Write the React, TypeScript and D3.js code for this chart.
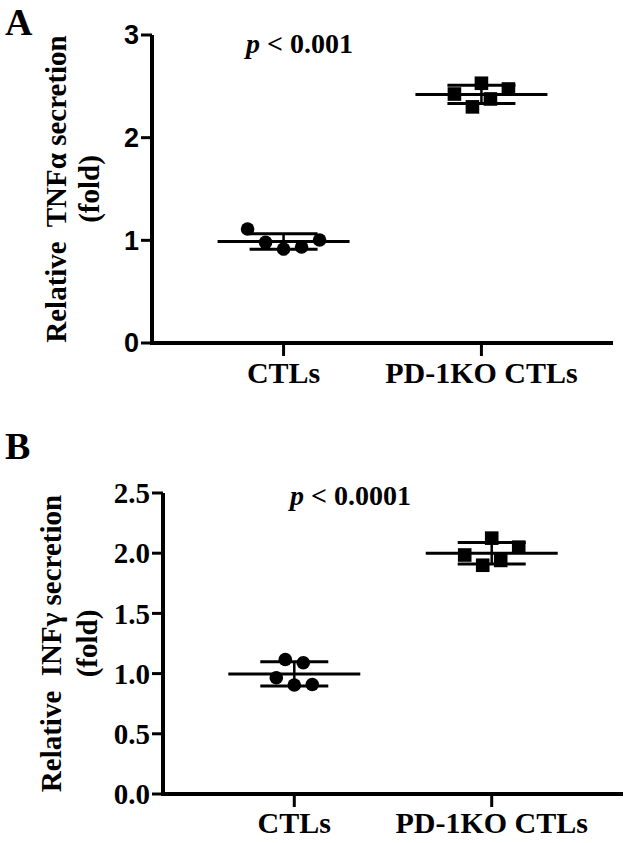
import React from "react";
import * as d3 from "d3";

const categories = ["CTLs", "PD-1KO CTLs"];

// Panel A: relative TNFα secretion (fold)
const tnfCTLs = [1.11, 0.98, 0.915, 0.935, 1.003];
const tnfKO = [2.425, 2.3, 2.53, 2.377, 2.474];
const tnfCTLsJitter = [-2, -1, 0, 1, 2];
const tnfKOJitter = [-1.5, -0.5, 0, 0.5, 1.5];
const tnfTicks = [0, 1, 2, 3];
const tnfTickLabels = ["0", "1", "2", "3"];

// Panel B: relative INFγ secretion (fold)
const infCTLs = [0.965, 1.117, 0.905, 1.09, 0.91];
const infKO = [1.985, 1.9, 2.125, 1.94, 2.05];
const infCTLsJitter = [-1, -0.5, 0, 0.5, 1];
const infKOJitter = [-1.5, -0.5, 0, 0.5, 1.5];
const infTicks = [0, 0.5, 1, 1.5, 2, 2.5];
const infTickLabels = ["0.0", "0.5", "1.0", "1.5", "2.0", "2.5"];

const SERIF = "'Liberation Serif', 'Times New Roman', serif";
const SANS = "'Liberation Sans', Arial, sans-serif";

type PanelProps = {
  letter: string;
  letterY: number;
  x0: number;
  x1: number;
  yTop: number;
  yBottom: number;
  yMax: number;
  ticks: number[];
  tickLabels: string[];
  tickFont: string;
  tickSize: number;
  groups: { values: number[]; jitter: number[]; shape: "circle" | "square" }[];
  titleLine1: string;
  titleLine2: string;
  title1X: number;
  title2X: number;
  pText: string;
  pX: number;
  pY: number;
  labelY: number;
};

function Panel(p: PanelProps) {
  const y = d3.scaleLinear().domain([0, p.yMax]).range([p.yBottom, p.yTop]);
  const x = d3.scalePoint<string>().domain(categories).range([p.x0, p.x1]).padding(0.665);
  const jitterUnit = 18;
  const yMid = (p.yTop + p.yBottom) / 2;
  return (
    <g>
      <text x={5} y={p.letterY} fontFamily={SERIF} fontWeight="bold" fontSize={38}>
        {p.letter}
      </text>
      {/* y axis title */}
      <text
        transform={`translate(${p.title1X},${yMid}) rotate(-90)`}
        textAnchor="middle"
        fontFamily={SERIF}
        fontWeight="bold"
        fontSize={29}
        style={{ whiteSpace: "pre" }}
      >
        {p.titleLine1}
      </text>
      <text
        transform={`translate(${p.title2X},${yMid}) rotate(-90)`}
        textAnchor="middle"
        fontFamily={SERIF}
        fontWeight="bold"
        fontSize={29}
      >
        {p.titleLine2}
      </text>
      {/* axes */}
      <line x1={p.x0} x2={p.x0} y1={p.yTop} y2={p.yBottom + 2} stroke="#000" strokeWidth={4} />
      <line x1={p.x0 - 2} x2={p.x1} y1={p.yBottom} y2={p.yBottom} stroke="#000" strokeWidth={4} />
      {p.ticks.map((t, i) => (
        <g key={i}>
          <line x1={p.x0 - 11} x2={p.x0} y1={y(t)} y2={y(t)} stroke="#000" strokeWidth={3} />
          <text
            x={p.x0 - 13}
            y={y(t)}
            dy="0.35em"
            textAnchor="end"
            fontFamily={p.tickFont}
            fontWeight="bold"
            fontSize={p.tickSize}
          >
            {p.tickLabels[i]}
          </text>
        </g>
      ))}
      {categories.map((c) => (
        <g key={c}>
          <line x1={x(c)} x2={x(c)} y1={p.yBottom} y2={p.yBottom + 13} stroke="#000" strokeWidth={3} />
          <text
            x={x(c)}
            y={p.labelY}
            textAnchor="middle"
            fontFamily={SERIF}
            fontWeight="bold"
            fontSize={30}
          >
            {c}
          </text>
        </g>
      ))}
      {/* data */}
      {p.groups.map((g, gi) => {
        const cx = x(categories[gi]) as number;
        const m = d3.mean(g.values) as number;
        const sd = d3.deviation(g.values) as number;
        return (
          <g key={gi}>
            {g.values.map((v, i) => {
              const px = cx + g.jitter[i] * jitterUnit;
              return g.shape === "circle" ? (
                <circle key={i} cx={px} cy={y(v)} r={6.8} fill="#000" />
              ) : (
                <rect key={i} x={px - 6.8} y={y(v) - 6.8} width={13.6} height={13.6} fill="#000" />
              );
            })}
            <line x1={cx - 66} x2={cx + 66} y1={y(m)} y2={y(m)} stroke="#000" strokeWidth={3} />
            <line x1={cx - 34} x2={cx + 34} y1={y(m + sd)} y2={y(m + sd)} stroke="#000" strokeWidth={3} />
            <line x1={cx - 34} x2={cx + 34} y1={y(m - sd)} y2={y(m - sd)} stroke="#000" strokeWidth={3} />
            <line x1={cx} x2={cx} y1={y(m + sd)} y2={y(m - sd)} stroke="#000" strokeWidth={2.5} />
          </g>
        );
      })}
      <text x={p.pX} y={p.pY} fontFamily={SERIF} fontWeight="bold" fontSize={28}>
        <tspan fontStyle="italic">p</tspan>
        {p.pText}
      </text>
    </g>
  );
}

export default function App() {
  return (
    <svg
      width={631}
      height={843}
      style={{ position: "absolute", left: 0, top: 0, background: "#fff" }}
    >
      <rect width={631} height={843} fill="#fff" />
      <Panel
        letter="A"
        letterY={35}
        x0={152}
        x1={613}
        yTop={35}
        yBottom={343}
        yMax={3}
        ticks={tnfTicks}
        tickLabels={tnfTickLabels}
        tickFont={SANS}
        tickSize={27}
        groups={[
          { values: tnfCTLs, jitter: tnfCTLsJitter, shape: "circle" },
          { values: tnfKO, jitter: tnfKOJitter, shape: "square" },
        ]}
        titleLine1={"Relative  TNFα secretion"}
        titleLine2="(fold)"
        title1X={66}
        title2X={99}
        pText=" < 0.001"
        pX={246}
        pY={53}
        labelY={383}
      />
      <Panel
        letter="B"
        letterY={459}
        x0={163}
        x1={623}
        yTop={493}
        yBottom={794}
        yMax={2.5}
        ticks={infTicks}
        tickLabels={infTickLabels}
        tickFont={SERIF}
        tickSize={29}
        groups={[
          { values: infCTLs, jitter: infCTLsJitter, shape: "circle" },
          { values: infKO, jitter: infKOJitter, shape: "square" },
        ]}
        titleLine1={"Relative  INFγ secretion"}
        titleLine2="(fold)"
        title1X={61}
        title2X={97}
        pText=" < 0.0001"
        pX={290}
        pY={505}
        labelY={833}
      />
    </svg>
  );
}
